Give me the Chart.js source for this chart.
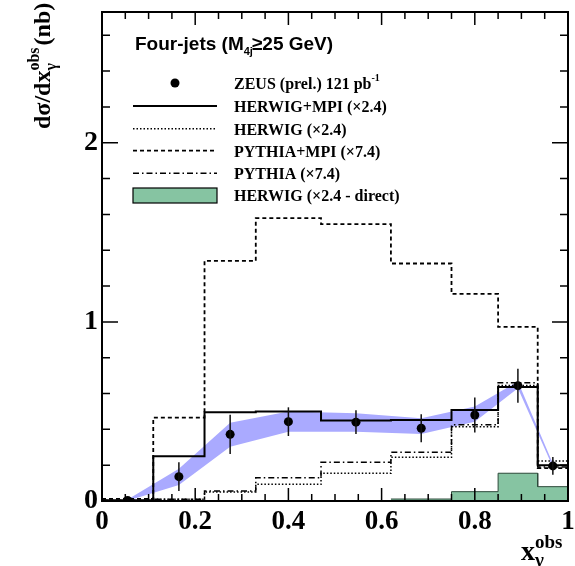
<!DOCTYPE html>
<html>
<head>
<meta charset="utf-8">
<script src="https://cdn.jsdelivr.net/npm/chart.js@4.4.1/dist/chart.umd.min.js"></script>
<style>
  html, body { margin: 0; padding: 0; background: #fff; }
  #wrap { width: 575px; height: 566px; }
</style>
</head>
<body>
<div id="wrap"><canvas id="chart"></canvas></div>
<script>
// bin edges in x_gamma^obs
const binEdges = [0, 0.11, 0.22, 0.33, 0.47, 0.62, 0.75, 0.85, 0.935, 1.0];

// model histograms (one value per bin)
const herwigMpi    = [0.004, 0.25, 0.495, 0.50, 0.45, 0.452, 0.508, 0.636, 0.20];
const herwig       = [0.003, 0.01, 0.05, 0.093, 0.155, 0.244, 0.415, 0.645, 0.223];
const pythiaMpi    = [0.012, 0.465, 1.341, 1.579, 1.546, 1.326, 1.156, 0.972, 0.183];
const pythia       = [0.003, 0.01, 0.056, 0.13, 0.216, 0.272, 0.425, 0.66, 0.19];
const herwigDirect = [null, null, null, null, null, 0.011, 0.052, 0.155, 0.08];

// ZEUS data points
const dataX   = [0.055, 0.165, 0.275, 0.40, 0.545, 0.685, 0.80, 0.8925, 0.9675];
const dataY   = [0.003, 0.136, 0.372, 0.443, 0.44, 0.406, 0.48, 0.644, 0.196];
const dataErr = [0.004, 0.08, 0.11, 0.08, 0.066, 0.078, 0.098, 0.095, 0.05];

// blue uncertainty band (upper / lower edge at the data points)
const bandHigh = [0.008, 0.18, 0.437, 0.499, 0.49, 0.462, 0.527, 0.667, 0.21];
const bandLow  = [0.002, 0.09, 0.303, 0.387, 0.387, 0.374, 0.443, 0.63, 0.19];

// axis labels
const xTicks = [0, 0.2, 0.4, 0.6, 0.8, 1];
const yTicks = [0, 1, 2];

const SERIF = "'Liberation Serif', 'Times New Roman', serif";
const SANS = "'Liberation Sans', Arial, sans-serif";
const BAND = '#aaaaff';
const GREEN = '#86c4a2';

function stepPoints(vals) {
    const pts = [];
    vals.forEach((v, i) => {
        if (v === null) return;
        pts.push({ x: binEdges[i], y: v }, { x: binEdges[i + 1], y: v });
    });
    return pts;
}

function histo(vals, dash, width, order) {
    return {
        data: stepPoints(vals),
        borderColor: '#000',
        borderWidth: width,
        borderDash: dash,
        pointRadius: 0,
        tension: 0,
        fill: false,
        order: order
    };
}

// draws text pieces one after another; a piece with sub/sup stacks both
function drawRich(ctx, x, y, parts) {
    parts.forEach(p => {
        if (p.sub !== undefined) {
            ctx.font = p.font;
            const w1 = ctx.measureText(p.sub).width;
            const w2 = ctx.measureText(p.sup).width;
            ctx.fillText(p.sub, x, y + p.subDy);
            ctx.fillText(p.sup, x, y + p.supDy);
            x += Math.max(w1, w2) + (p.kern || 0);
        } else {
            ctx.font = p.font;
            ctx.fillText(p.t, x, y + (p.dy || 0));
            x += ctx.measureText(p.t).width + (p.kern || 0);
        }
    });
    return x;
}

const overlay = {
    id: 'overlay',
    afterDatasetsDraw(chart) {
        const ctx = chart.ctx;
        const xs = chart.scales.x, ys = chart.scales.y;
        ctx.save();
        ctx.strokeStyle = '#111';
        ctx.lineWidth = 1.5;
        dataX.forEach((xv, i) => {
            const px = xs.getPixelForValue(xv);
            ctx.beginPath();
            ctx.moveTo(px, ys.getPixelForValue(dataY[i] - dataErr[i]));
            ctx.lineTo(px, ys.getPixelForValue(dataY[i] + dataErr[i]));
            ctx.stroke();
        });
        ctx.restore();
    },
    afterDraw(chart) {
        const ctx = chart.ctx;
        const a = chart.chartArea;
        const xs = chart.scales.x, ys = chart.scales.y;
        ctx.save();
        ctx.strokeStyle = '#000';
        ctx.fillStyle = '#000';

        // frame
        ctx.lineWidth = 2;
        ctx.strokeRect(a.left, a.top, a.right - a.left, a.bottom - a.top);

        // inward ticks
        ctx.lineWidth = 1.5;
        ctx.beginPath();
        for (let i = 0; i <= 20; i++) {
            const px = xs.getPixelForValue(i * 0.05);
            const len = i % 4 === 0 ? 13 : 7;
            ctx.moveTo(px, a.bottom); ctx.lineTo(px, a.bottom - len);
            ctx.moveTo(px, a.top); ctx.lineTo(px, a.top + len);
        }
        for (let i = 0; i * 0.2 <= ys.max; i++) {
            const py = ys.getPixelForValue(i * 0.2);
            const len = i % 5 === 0 ? 16 : 8;
            ctx.moveTo(a.left, py); ctx.lineTo(a.left + len, py);
            ctx.moveTo(a.right, py); ctx.lineTo(a.right - len, py);
        }
        ctx.stroke();

        // legend title
        ctx.textBaseline = 'alphabetic';
        drawRich(ctx, 135, 50, [
            { t: 'Four-jets (M', font: 'bold 19px ' + SANS },
            { t: '4j', font: 'bold 11px ' + SANS, dy: 5, kern: -1 },
            { t: '\u226525 GeV)', font: 'bold 19px ' + SANS }
        ]);

        // legend entries
        const rows = [83, 106, 128.7, 150.7, 173.3, 195];
        const sx0 = 133, sx1 = 217, tx = 234;
        const lf = 'bold 16px ' + SERIF;

        ctx.beginPath();
        ctx.arc(175, rows[0], 4.5, 0, Math.PI * 2);
        ctx.fill();

        const styles = [[[], 2], [[1.5, 2], 1.5], [[4, 3], 1.8], [[6, 3, 1.5, 3], 1.5]];
        styles.forEach((s, i) => {
            ctx.setLineDash(s[0]);
            ctx.lineWidth = s[1];
            ctx.beginPath();
            ctx.moveTo(sx0, rows[i + 1]);
            ctx.lineTo(sx1, rows[i + 1]);
            ctx.stroke();
        });
        ctx.setLineDash([]);
        ctx.fillStyle = GREEN;
        ctx.fillRect(sx0, 188, sx1 - sx0, 15);
        ctx.lineWidth = 1.2;
        ctx.strokeRect(sx0, 188, sx1 - sx0, 15);
        ctx.fillStyle = '#000';

        drawRich(ctx, tx, rows[0] + 6, [
            { t: 'ZEUS (prel.) 121 pb', font: lf },
            { t: '-1', font: 'bold 10px ' + SERIF, dy: -8 }
        ]);
        const labels = ['HERWIG+MPI (\u00d72.4)', 'HERWIG (\u00d72.4)', 'PYTHIA+MPI (\u00d77.4)',
                        'PYTHIA (\u00d77.4)', 'HERWIG (\u00d72.4 - direct)'];
        labels.forEach((t, i) => {
            ctx.font = lf;
            ctx.fillText(t, tx, rows[i + 1] + 6);
        });

        // x axis title
        drawRich(ctx, 521, 560, [
            { t: 'x', font: 'bold 28px ' + SERIF },
            { sub: '\u03b3', sup: 'obs', font: 'bold 19px ' + SERIF, subDy: 6, supDy: -12 }
        ]);

        // y axis title (rotated)
        ctx.translate(50, 129);
        ctx.rotate(-Math.PI / 2);
        drawRich(ctx, 0, 0, [
            { t: 'd\u03c3/dx', font: 'bold 24px ' + SERIF },
            { sub: '\u03b3', sup: 'obs', font: 'bold 16px ' + SERIF, subDy: 6, supDy: -11, kern: 2 },
            { t: '(nb)', font: 'bold 24px ' + SERIF }
        ]);
        ctx.restore();
    }
};

const tickFont = { family: SERIF, weight: 'bold', size: 27 };

new Chart(document.getElementById('chart'), {
    type: 'line',
    data: {
        datasets: [
            {
                data: dataX.map((x, i) => ({ x: x, y: dataY[i] })),
                showLine: false,
                pointRadius: 4.5,
                pointBackgroundColor: '#000',
                pointBorderColor: '#000',
                pointBorderWidth: 0,
                order: 0
            },
            histo(herwigMpi, [], 2, 1),
            histo(herwig, [1.5, 2], 1.5, 1),
            histo(pythiaMpi, [4, 3], 1.8, 1),
            histo(pythia, [6, 3, 1.5, 3], 1.5, 1),
            {
                data: dataX.map((x, i) => ({ x: x, y: bandHigh[i] })),
                borderWidth: 0,
                borderColor: BAND,
                pointRadius: 0,
                fill: false,
                order: 5
            },
            {
                data: dataX.map((x, i) => ({ x: x, y: bandLow[i] })),
                borderWidth: 0,
                borderColor: BAND,
                backgroundColor: BAND,
                pointRadius: 0,
                fill: 5,
                order: 5
            },
            {
                data: stepPoints(herwigDirect),
                borderColor: '#2d4a3a',
                borderWidth: 1,
                backgroundColor: GREEN,
                pointRadius: 0,
                fill: 'origin',
                order: 6
            }
        ]
    },
    options: {
        responsive: true,
        maintainAspectRatio: false,
        animation: false,
        layout: { padding: { top: 12, right: 7, left: 0, bottom: 0 } },
        plugins: {
            legend: { display: false },
            tooltip: { enabled: false }
        },
        scales: {
            x: {
                type: 'linear',
                min: 0,
                max: 1,
                afterBuildTicks: s => { s.ticks = xTicks.map(v => ({ value: v })); },
                afterFit: s => { s.height = 65; s.paddingLeft = 0; s.paddingRight = 0; },
                grid: { display: false, drawTicks: false },
                border: { display: false },
                ticks: { font: tickFont, color: '#000', padding: 5, maxRotation: 0, callback: v => String(v) }
            },
            y: {
                type: 'linear',
                min: 0,
                max: 2.73,
                afterBuildTicks: s => { s.ticks = yTicks.map(v => ({ value: v })); },
                afterFit: s => { s.width = 102; s.paddingTop = 0; s.paddingBottom = 0; },
                grid: { display: false, drawTicks: false },
                border: { display: false },
                ticks: { font: { family: SERIF, weight: 'bold', size: 28 }, color: '#000', padding: 4, callback: v => String(v) }
            }
        }
    },
    plugins: [overlay]
});
</script>
</body>
</html>
